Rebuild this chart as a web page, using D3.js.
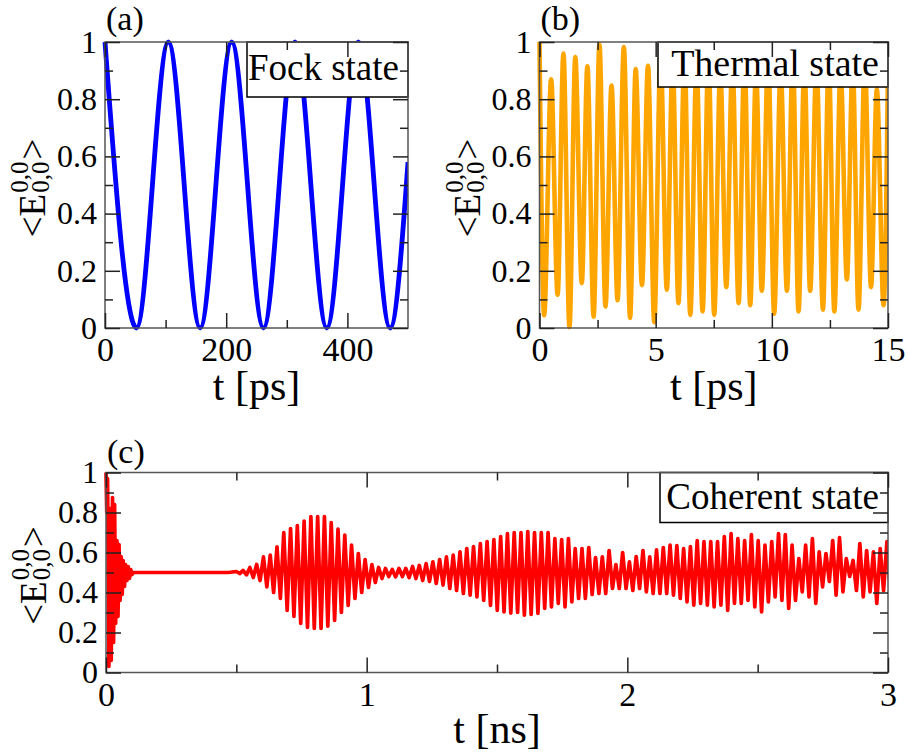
<!DOCTYPE html>
<html>
<head>
<meta charset="utf-8">
<script src="https://cdn.jsdelivr.net/npm/d3@7"></script>
<style>
  body { margin: 0; background: #fff; }
  svg { display: block; }
</style>
</head>
<body>
<svg id="chart" width="908" height="756"></svg>
<script>
// (a) Fock state: extrema
const fockTime = [0, 52, 104.5, 157, 209, 261.5, 313.5, 366, 418, 470.5, 500];
const fockValue = [1, 0, 1, 0, 1, 0, 1, 0, 1, 0, 0.58];

// (b) Thermal state: alternating maxima / minima
const thermalTime = [0, 0.2, 0.5, 0.78, 1.03, 1.29, 1.54, 1.82, 2.06, 2.33,
  2.58, 2.84, 3.1, 3.36, 3.63, 3.9, 4.14, 4.41, 4.67, 4.94,
  5.21, 5.48, 5.73, 5.98, 6.24, 6.49, 6.76, 7.02, 7.27, 7.52,
  7.78, 8.04, 8.3, 8.57, 8.82, 9.07, 9.32, 9.57, 9.84, 10.1,
  10.38, 10.65, 10.9, 11.15, 11.4, 11.65, 11.92, 12.2, 12.45, 12.69,
  12.96, 13.23, 13.48, 13.73, 14.0, 14.27, 14.52, 14.81, 15];
const thermalValue = [1, 0.045, 0.87, 0.116, 0.96, 0.003, 0.947, 0.157, 0.915, 0.04,
  0.99, 0.075, 0.848, 0.097, 0.982, 0.035, 0.905, 0.15, 0.917, 0.02,
  0.95, 0.134, 0.93, 0.087, 0.95, 0.046, 0.92, 0.058, 0.96, 0.046,
  0.9, 0.143, 0.93, 0.087, 0.95, 0.08, 0.9, 0.13, 0.96, 0.05,
  0.9, 0.13, 0.95, 0.058, 0.92, 0.13, 0.93, 0.064, 0.94, 0.058,
  0.9, 0.17, 0.92, 0.064, 0.93, 0.143, 0.835, 0.08, 0.9];

// (c) Coherent state: collapse at the start, then the revival teeth
const coherentEarlyTime = [0, 0.003, 0.006, 0.011, 0.016, 0.02, 0.025, 0.029, 0.033, 0.037,
  0.042, 0.046, 0.05, 0.054, 0.058, 0.062, 0.066, 0.071, 0.075, 0.08,
  0.085, 0.09, 0.095, 0.1, 0.105, 0.3, 0.47];
const coherentEarlyValue = [1, 0.8, 0.97, 0.03, 0.82, 0.06, 0.875, 0.15, 0.84, 0.245,
  0.66, 0.28, 0.64, 0.36, 0.58, 0.39, 0.56, 0.43, 0.54, 0.46,
  0.53, 0.47, 0.515, 0.49, 0.5, 0.5, 0.5];
// teeth sampled every 0.026 ns from 0.5 ns: top of each tooth, then its bottom half a step later
const toothStart = 0.5, toothStep = 0.026;
const coherentTop = [0.505, 0.51, 0.525, 0.54, 0.578, 0.587, 0.628, 0.70, 0.72, 0.735,
  0.757, 0.78, 0.78, 0.78, 0.75, 0.717, 0.687, 0.637, 0.595, 0.565,
  0.54, 0.525, 0.52, 0.515, 0.52, 0.52, 0.53, 0.535, 0.545, 0.553,
  0.565, 0.578, 0.587, 0.603, 0.62, 0.63, 0.645, 0.655, 0.665, 0.68,
  0.695, 0.70, 0.70, 0.705, 0.70, 0.70, 0.70, 0.67, 0.665, 0.67,
  0.62, 0.62, 0.625, 0.575, 0.578, 0.61, 0.54, 0.60, 0.553, 0.58,
  0.61, 0.578, 0.613, 0.625, 0.637, 0.635, 0.62, 0.63, 0.66, 0.655,
  0.655, 0.655, 0.68, 0.695, 0.67, 0.66, 0.69, 0.66, 0.637, 0.655,
  0.695, 0.69, 0.637, 0.57, 0.637, 0.67, 0.603, 0.595, 0.66, 0.675,
  0.57, 0.56, 0.645, 0.61, 0.603, 0.62, 0.655];
const coherentBottom = [0.495, 0.488, 0.475, 0.46, 0.428, 0.40, 0.37, 0.31, 0.28, 0.245,
  0.225, 0.22, 0.22, 0.232, 0.26, 0.30, 0.335, 0.37, 0.40, 0.425,
  0.45, 0.47, 0.48, 0.478, 0.48, 0.475, 0.47, 0.46, 0.455, 0.445,
  0.437, 0.42, 0.41, 0.395, 0.387, 0.378, 0.36, 0.335, 0.31, 0.303,
  0.297, 0.30, 0.287, 0.29, 0.295, 0.32, 0.328, 0.345, 0.328, 0.353,
  0.37, 0.37, 0.39, 0.395, 0.395, 0.42, 0.42, 0.42, 0.41, 0.42,
  0.403, 0.395, 0.395, 0.395, 0.387, 0.37, 0.353, 0.337, 0.345, 0.337,
  0.328, 0.337, 0.31, 0.345, 0.345, 0.36, 0.328, 0.303, 0.353, 0.378,
  0.36, 0.32, 0.36, 0.403, 0.378, 0.345, 0.428, 0.455, 0.387, 0.403,
  0.48, 0.41, 0.378, 0.403, 0.345, 0.41, 0.40];

const yMajor = [0, 0.2, 0.4, 0.6, 0.8, 1];
const yMinor = [0.1, 0.3, 0.5, 0.7, 0.9];

const svg = d3.select("#chart");
const serif = '"Liberation Serif", "Times New Roman", Times, serif';

const coherentPoints = coherentEarlyTime.map((t, i) => [t, coherentEarlyValue[i]]);
coherentTop.forEach((v, i) => {
  coherentPoints.push([toothStart + i * toothStep, v]);
  coherentPoints.push([toothStart + (i + 0.5) * toothStep, coherentBottom[i]]);
});

const panels = [
  {name: "a", label: "(a)", left: 105, right: 408, top: 42, bottom: 328,
   xDomain: [0, 500], xMajor: [0, 200, 400], xMinor: [100, 300],
   points: fockTime.map((t, i) => [t, fockValue[i]]), curve: d3.curveMonotoneX,
   color: "#0000ff", lineWidth: 4.8,
   legend: "Fock state", legendW: 161, legendH: 55, legendSize: 37, legendBase: 38,
   xTitle: "t [ps]", titleY: 400, labelY: 30},
  {name: "b", label: "(b)", left: 539.5, right: 888, top: 42, bottom: 328,
   xDomain: [0, 15], xMajor: [0, 5, 10, 15], xMinor: [2.5, 7.5, 12.5],
   points: thermalTime.map((t, i) => [t, thermalValue[i]]), curve: d3.curveMonotoneX,
   color: "#ffa500", lineWidth: 4.6,
   legend: "Thermal state", legendW: 230, legendH: 45, legendSize: 38, legendBase: 34,
   xTitle: "t [ps]", titleY: 400, labelY: 30},
  {name: "c", label: "(c)", left: 106, right: 888, top: 472.5, bottom: 672.5,
   xDomain: [0, 3], xMajor: [0, 1, 2, 3], xMinor: [0.5, 1.5, 2.5],
   points: coherentPoints, curve: d3.curveLinear,
   color: "#ff0000", lineWidth: 3.7,
   legend: "Coherent state", legendW: 228, legendH: 50, legendSize: 37, legendBase: 36,
   xTitle: "t [ns]", titleY: 743, labelY: 463}
];

function styleAxis(sel) {
  sel.select(".domain").remove();
  sel.selectAll(".tick line").attr("stroke", "#222").attr("stroke-width", 1.5);
  sel.selectAll(".tick text").attr("fill", "#000").attr("font-family", serif);
  sel.attr("font-family", serif);
}

function yLabel(cx, cy) {
  const g = svg.append("g").attr("font-family", serif).attr("fill", "#000");
  const main = g.append("text").attr("font-size", 37).attr("x", 0).attr("y", 0).text("<E");
  const w1 = main.node().getComputedTextLength();
  const sup = g.append("text").attr("font-size", 25).attr("x", w1 + 1).attr("y", -17).text("0,0");
  const sub = g.append("text").attr("font-size", 25).attr("x", w1 + 1).attr("y", 4).text("0,0");
  const w2 = Math.max(sup.node().getComputedTextLength(), sub.node().getComputedTextLength());
  const close = g.append("text").attr("font-size", 37).attr("x", w1 + w2 + 3).attr("y", 0).text(">");
  const total = w1 + w2 + 3 + close.node().getComputedTextLength();
  g.attr("transform", `translate(${cx},${cy}) rotate(-90) translate(${-total / 2},0)`);
}

function drawPanel(p) {
  const x = d3.scaleLinear().domain(p.xDomain).range([p.left, p.right]);
  const y = d3.scaleLinear().domain([0, 1]).range([p.bottom, p.top]);
  const g = svg.append("g");

  g.append("clipPath").attr("id", "clip-" + p.name)
    .append("rect")
    .attr("x", p.left - 4).attr("y", 0)
    .attr("width", p.right - p.left + 4).attr("height", 756);

  g.append("path")
    .datum(p.points)
    .attr("clip-path", `url(#clip-${p.name})`)
    .attr("fill", "none")
    .attr("stroke", p.color)
    .attr("stroke-width", p.lineWidth)
    .attr("stroke-linejoin", "round")
    .attr("d", d3.line().x(d => x(d[0])).y(d => y(d[1])).curve(p.curve));

  // legend box sits over the curve
  g.append("rect")
    .attr("x", p.right - p.legendW).attr("y", p.top)
    .attr("width", p.legendW).attr("height", p.legendH)
    .attr("fill", "#fff").attr("stroke", "#000").attr("stroke-width", 1.5);
  g.append("text")
    .attr("x", p.right - 9).attr("y", p.top + p.legendBase)
    .attr("text-anchor", "end")
    .attr("font-family", serif).attr("font-size", p.legendSize)
    .text(p.legend);

  g.append("rect")
    .attr("x", p.left).attr("y", p.top)
    .attr("width", p.right - p.left).attr("height", p.bottom - p.top)
    .attr("fill", "none").attr("stroke", "#555").attr("stroke-width", 1.5);

  const fmt = d => String(d);
  g.append("g").attr("transform", `translate(0,${p.bottom})`)
    .call(d3.axisBottom(x).tickValues(p.xMajor).tickSizeInner(-15).tickSizeOuter(0).tickPadding(9).tickFormat(fmt))
    .call(styleAxis).attr("font-size", 34);
  g.append("g").attr("transform", `translate(0,${p.bottom})`)
    .call(d3.axisBottom(x).tickValues(p.xMinor).tickSizeInner(-8).tickSizeOuter(0).tickFormat(""))
    .call(styleAxis);
  g.append("g").attr("transform", `translate(0,${p.top})`)
    .call(d3.axisTop(x).tickValues(p.xMajor).tickSizeInner(-15).tickSizeOuter(0).tickFormat(""))
    .call(styleAxis);
  g.append("g").attr("transform", `translate(0,${p.top})`)
    .call(d3.axisTop(x).tickValues(p.xMinor).tickSizeInner(-8).tickSizeOuter(0).tickFormat(""))
    .call(styleAxis);

  g.append("g").attr("transform", `translate(${p.left},0)`)
    .call(d3.axisLeft(y).tickValues(yMajor).tickSizeInner(-15).tickSizeOuter(0).tickPadding(8).tickFormat(fmt))
    .call(styleAxis).attr("font-size", 32);
  g.append("g").attr("transform", `translate(${p.left},0)`)
    .call(d3.axisLeft(y).tickValues(yMinor).tickSizeInner(-8).tickSizeOuter(0).tickFormat(""))
    .call(styleAxis);
  g.append("g").attr("transform", `translate(${p.right},0)`)
    .call(d3.axisRight(y).tickValues(yMajor).tickSizeInner(-15).tickSizeOuter(0).tickFormat(""))
    .call(styleAxis);
  g.append("g").attr("transform", `translate(${p.right},0)`)
    .call(d3.axisRight(y).tickValues(yMinor).tickSizeInner(-8).tickSizeOuter(0).tickFormat(""))
    .call(styleAxis);

  g.append("text")
    .attr("x", (p.left + p.right) / 2).attr("y", p.titleY)
    .attr("text-anchor", "middle")
    .attr("font-family", serif).attr("font-size", 42)
    .text(p.xTitle);

  g.append("text")
    .attr("x", p.left + 1).attr("y", p.labelY)
    .attr("font-family", serif).attr("font-size", 34)
    .text(p.label);

  yLabel(p.left - 60, (p.top + p.bottom) / 2 + 3);
}

panels.forEach(drawPanel);
</script>
</body>
</html>
